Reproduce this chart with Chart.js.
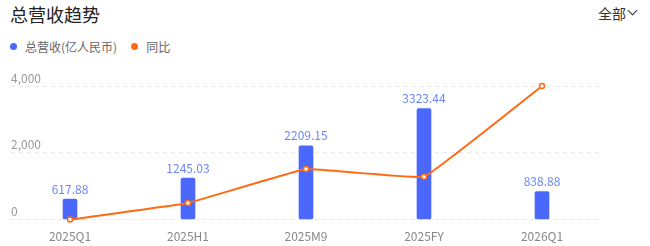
<!DOCTYPE html>
<html>
<head>
<meta charset="utf-8">
<script src="https://cdn.jsdelivr.net/npm/chart.js@4"></script>
<style>
  html, body { margin: 0; padding: 0; background: #fff; }
  body { width: 650px; height: 246px; position: relative; overflow: hidden;
         font-family: "Noto Sans CJK SC", "Noto Sans", sans-serif; }
  #title { position: absolute; left: 10px; top: 1px; font-size: 18px; color: #222; }
  #filter { position: absolute; right: 14px; top: 3px; font-size: 14px; color: #333; }
  #filter b { display: inline-block; width: 6px; height: 6px; border-right: 1.3px solid #333;
              border-bottom: 1.3px solid #333; transform: rotate(45deg); margin-left: 3px;
              position: relative; top: -5px; }
  #legend { position: absolute; left: 10px; top: 38px; font-size: 12px; color: #666; display: flex; }
  #legend span.item { display: flex; align-items: center; margin-right: 14px; }
  #legend i { display: inline-block; width: 7px; height: 7px; border-radius: 50%; margin-right: 8px; }
  #wrap { position: absolute; left: 0; top: 60px; width: 650px; height: 186px; }
</style>
</head>
<body>
<div id="title">总营收趋势</div>
<div id="filter">全部<b></b></div>
<div id="legend"></div>
<div id="wrap"><canvas id="c"></canvas></div>
<script>
// data
const periods = ["2025Q1", "2025H1", "2025M9", "2025FY", "2026Q1"];
const revenue = [617.88, 1245.03, 2209.15, 3323.44, 838.88];
const yoy = [-10.0, -1.3, 16.5, 12.4, 60.0];   // estimated, axis hidden
const revenueTicks = [0, 2000, 4000];
const seriesNames = ["总营收(亿人民币)", "同比"];
const colors = { bar: "#4a68fb", barLabel: "#6b86f9", line: "#ff6a13" };

// simple html legend
const legend = document.getElementById("legend");
[colors.bar, colors.line].forEach((col, i) => {
  const s = document.createElement("span");
  s.className = "item";
  s.innerHTML = '<i style="background:' + col + '"></i>' + seriesNames[i];
  legend.appendChild(s);
});

// values above bars
const barValues = {
  id: "barValues",
  afterDatasetsDraw(chart) {
    const ctx = chart.ctx;
    const meta = chart.getDatasetMeta(0);
    ctx.save();
    ctx.font = '12px "Noto Sans CJK SC", sans-serif';
    ctx.fillStyle = colors.barLabel;
    ctx.textAlign = "center";
    ctx.textBaseline = "bottom";
    meta.data.forEach((bar, i) => {
      ctx.fillText(revenue[i].toFixed(2), bar.x, bar.y - 4);
    });
    ctx.restore();
  }
};

new Chart(document.getElementById("c"), {
  data: {
    labels: periods,
    datasets: [{
      type: "bar",
      label: seriesNames[0],
      data: revenue,
      backgroundColor: colors.bar,
      barThickness: 14,
      borderRadius: 2,
      borderSkipped: false,
      yAxisID: "y",
      order: 1
    }, {
      type: "line",
      label: seriesNames[1],
      data: yoy,
      borderColor: colors.line,
      borderWidth: 2,
      tension: 0.06,
      clip: false,
      pointRadius: 2.5,
      pointBackgroundColor: "#fff",
      pointBorderColor: colors.line,
      pointBorderWidth: 1.5,
      yAxisID: "y1",
      order: 0
    }]
  },
  options: {
    responsive: true,
    maintainAspectRatio: false,
    animation: false,
    layout: { padding: { left: 11, right: 49, top: 26, bottom: 0 } },
    plugins: { legend: { display: false }, tooltip: { enabled: false } },
    scales: {
      x: {
        grid: { display: false },
        border: { display: false },
        ticks: { color: "#888", font: { size: 12, family: "Noto Sans CJK SC" }, padding: 2 }
      },
      y: {
        min: 0, max: 4000,
        afterBuildTicks: (axis) => { axis.ticks = revenueTicks.map(v => ({ value: v })); },
        grid: { color: "#e8e8e8", drawTicks: false },
        border: { display: false, dash: [4, 4] },
        ticks: {
          mirror: true, padding: 0, labelOffset: -8,
          color: "#999", font: { size: 12, family: "Noto Sans CJK SC" },
          callback: (v) => v.toLocaleString("en-US")
        }
      },
      y1: {
        display: false,
        min: -10, max: 60
      }
    }
  },
  plugins: [barValues]
});
</script>
</body>
</html>
